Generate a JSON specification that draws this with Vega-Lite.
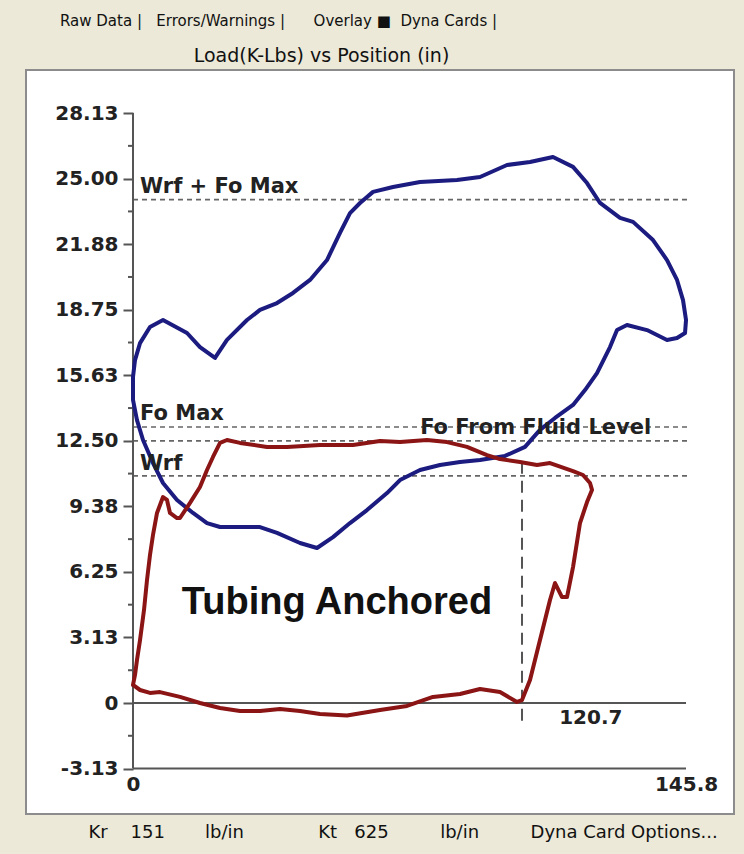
{
  "$schema": "https://vega.github.io/schema/vega-lite/v6.json",
  "autosize": {"type": "none"},
  "padding": {"left": 26, "top": 70, "right": 10, "bottom": 40},
  "width": 708,
  "height": 744,
  "background": "#ECE9D8",
  "config": {"view": {"fill": "white", "stroke": "#8c8c8c", "strokeWidth": 2}},
  "title": {
    "text": "Raw Data |\u00a0\u00a0\u00a0Errors/Warnings |\u00a0\u00a0\u00a0\u00a0\u00a0\u00a0Overlay ■\u00a0 Dyna Cards |",
    "anchor": "start", "frame": "group", "dx": 34, "offset": 17,
    "font": "DejaVu Sans", "fontSize": 15, "fontWeight": "normal", "color": "#111"
  },
  "datasets": {
    "cards": [
      {"card": "Surface", "i": 0, "pos": 0, "load": 14.78},
      {"card": "Surface", "i": 1, "pos": 0, "load": 15.54},
      {"card": "Surface", "i": 2, "pos": 0.53, "load": 16.35},
      {"card": "Surface", "i": 3, "pos": 1.85, "load": 17.16},
      {"card": "Surface", "i": 4, "pos": 4.48, "load": 17.93},
      {"card": "Surface", "i": 5, "pos": 7.91, "load": 18.26},
      {"card": "Surface", "i": 6, "pos": 14.24, "load": 17.64},
      {"card": "Surface", "i": 7, "pos": 17.66, "load": 16.97},
      {"card": "Surface", "i": 8, "pos": 21.62, "load": 16.45},
      {"card": "Surface", "i": 9, "pos": 24.78, "load": 17.31},
      {"card": "Surface", "i": 10, "pos": 30.06, "load": 18.26},
      {"card": "Surface", "i": 11, "pos": 33.48, "load": 18.74},
      {"card": "Surface", "i": 12, "pos": 37.97, "load": 19.07},
      {"card": "Surface", "i": 13, "pos": 42.18, "load": 19.55},
      {"card": "Surface", "i": 14, "pos": 46.67, "load": 20.17},
      {"card": "Surface", "i": 15, "pos": 51.15, "load": 21.12},
      {"card": "Surface", "i": 16, "pos": 54.57, "load": 22.41},
      {"card": "Surface", "i": 17, "pos": 57.21, "load": 23.36},
      {"card": "Surface", "i": 18, "pos": 59.85, "load": 23.84},
      {"card": "Surface", "i": 19, "pos": 63.28, "load": 24.37},
      {"card": "Surface", "i": 20, "pos": 68.55, "load": 24.6},
      {"card": "Surface", "i": 21, "pos": 75.67, "load": 24.84},
      {"card": "Surface", "i": 22, "pos": 85.42, "load": 24.94},
      {"card": "Surface", "i": 23, "pos": 91.49, "load": 25.08},
      {"card": "Surface", "i": 24, "pos": 98.61, "load": 25.65},
      {"card": "Surface", "i": 25, "pos": 104.67, "load": 25.79},
      {"card": "Surface", "i": 26, "pos": 110.73, "load": 26.03},
      {"card": "Surface", "i": 27, "pos": 116.01, "load": 25.56},
      {"card": "Surface", "i": 28, "pos": 119.7, "load": 24.79},
      {"card": "Surface", "i": 29, "pos": 123.13, "load": 23.84},
      {"card": "Surface", "i": 30, "pos": 128.4, "load": 23.13},
      {"card": "Surface", "i": 31, "pos": 131.83, "load": 22.94},
      {"card": "Surface", "i": 32, "pos": 137.1, "load": 22.07},
      {"card": "Surface", "i": 33, "pos": 140.79, "load": 21.12},
      {"card": "Surface", "i": 34, "pos": 143.43, "load": 20.17},
      {"card": "Surface", "i": 35, "pos": 145.01, "load": 19.21},
      {"card": "Surface", "i": 36, "pos": 145.8, "load": 18.26},
      {"card": "Surface", "i": 37, "pos": 145.54, "load": 17.64},
      {"card": "Surface", "i": 38, "pos": 143.43, "load": 17.4},
      {"card": "Surface", "i": 39, "pos": 140.79, "load": 17.31},
      {"card": "Surface", "i": 40, "pos": 135.52, "load": 17.78},
      {"card": "Surface", "i": 41, "pos": 130.24, "load": 18.02},
      {"card": "Surface", "i": 42, "pos": 127.61, "load": 17.78},
      {"card": "Surface", "i": 43, "pos": 125.76, "load": 16.97},
      {"card": "Surface", "i": 44, "pos": 122.33, "load": 15.73},
      {"card": "Surface", "i": 45, "pos": 119.17, "load": 14.92},
      {"card": "Surface", "i": 46, "pos": 116.01, "load": 14.21},
      {"card": "Surface", "i": 47, "pos": 111.26, "load": 13.59},
      {"card": "Surface", "i": 48, "pos": 107.3, "load": 13.02},
      {"card": "Surface", "i": 49, "pos": 103.35, "load": 12.21},
      {"card": "Surface", "i": 50, "pos": 98.08, "load": 11.78},
      {"card": "Surface", "i": 51, "pos": 91.49, "load": 11.59},
      {"card": "Surface", "i": 52, "pos": 86.21, "load": 11.49},
      {"card": "Surface", "i": 53, "pos": 80.94, "load": 11.35},
      {"card": "Surface", "i": 54, "pos": 75.67, "load": 11.11},
      {"card": "Surface", "i": 55, "pos": 70.39, "load": 10.63},
      {"card": "Surface", "i": 56, "pos": 66.97, "load": 10.01},
      {"card": "Surface", "i": 57, "pos": 61.69, "load": 9.2},
      {"card": "Surface", "i": 58, "pos": 57.21, "load": 8.58},
      {"card": "Surface", "i": 59, "pos": 52.73, "load": 7.91},
      {"card": "Surface", "i": 60, "pos": 48.51, "load": 7.39},
      {"card": "Surface", "i": 61, "pos": 44.03, "load": 7.63},
      {"card": "Surface", "i": 62, "pos": 37.97, "load": 8.11},
      {"card": "Surface", "i": 63, "pos": 33.48, "load": 8.39},
      {"card": "Surface", "i": 64, "pos": 22.94, "load": 8.39},
      {"card": "Surface", "i": 65, "pos": 19.51, "load": 8.58},
      {"card": "Surface", "i": 66, "pos": 15.82, "load": 9.06},
      {"card": "Surface", "i": 67, "pos": 11.6, "load": 9.68},
      {"card": "Surface", "i": 68, "pos": 7.91, "load": 10.49},
      {"card": "Surface", "i": 69, "pos": 5.27, "load": 11.44},
      {"card": "Surface", "i": 70, "pos": 2.64, "load": 12.54},
      {"card": "Surface", "i": 71, "pos": 1.05, "load": 13.49},
      {"card": "Surface", "i": 72, "pos": 0, "load": 14.45},
      {"card": "Surface", "i": 73, "pos": 0, "load": 14.78},
      {"card": "Downhole", "i": 0, "pos": 0, "load": 0.86},
      {"card": "Downhole", "i": 1, "pos": 0.53, "load": 1.34},
      {"card": "Downhole", "i": 2, "pos": 1.05, "load": 2.05},
      {"card": "Downhole", "i": 3, "pos": 1.85, "load": 3.0},
      {"card": "Downhole", "i": 4, "pos": 2.9, "load": 4.43},
      {"card": "Downhole", "i": 5, "pos": 3.69, "load": 5.86},
      {"card": "Downhole", "i": 6, "pos": 4.48, "load": 7.06},
      {"card": "Downhole", "i": 7, "pos": 5.27, "load": 8.01},
      {"card": "Downhole", "i": 8, "pos": 6.33, "load": 9.06},
      {"card": "Downhole", "i": 9, "pos": 7.91, "load": 9.82},
      {"card": "Downhole", "i": 10, "pos": 8.96, "load": 9.68},
      {"card": "Downhole", "i": 11, "pos": 9.75, "load": 9.06},
      {"card": "Downhole", "i": 12, "pos": 11.6, "load": 8.82},
      {"card": "Downhole", "i": 13, "pos": 12.39, "load": 8.82},
      {"card": "Downhole", "i": 14, "pos": 15.03, "load": 9.54},
      {"card": "Downhole", "i": 15, "pos": 17.66, "load": 10.3},
      {"card": "Downhole", "i": 16, "pos": 19.51, "load": 11.11},
      {"card": "Downhole", "i": 17, "pos": 21.09, "load": 11.73},
      {"card": "Downhole", "i": 18, "pos": 22.94, "load": 12.4},
      {"card": "Downhole", "i": 19, "pos": 24.78, "load": 12.54},
      {"card": "Downhole", "i": 20, "pos": 28.21, "load": 12.4},
      {"card": "Downhole", "i": 21, "pos": 35.33, "load": 12.21},
      {"card": "Downhole", "i": 22, "pos": 40.6, "load": 12.21},
      {"card": "Downhole", "i": 23, "pos": 49.3, "load": 12.3},
      {"card": "Downhole", "i": 24, "pos": 58.0, "load": 12.3},
      {"card": "Downhole", "i": 25, "pos": 65.12, "load": 12.49},
      {"card": "Downhole", "i": 26, "pos": 70.39, "load": 12.44},
      {"card": "Downhole", "i": 27, "pos": 77.51, "load": 12.54},
      {"card": "Downhole", "i": 28, "pos": 82.79, "load": 12.44},
      {"card": "Downhole", "i": 29, "pos": 88.06, "load": 12.21},
      {"card": "Downhole", "i": 30, "pos": 93.33, "load": 11.82},
      {"card": "Downhole", "i": 31, "pos": 96.76, "load": 11.63},
      {"card": "Downhole", "i": 32, "pos": 102.03, "load": 11.49},
      {"card": "Downhole", "i": 33, "pos": 106.51, "load": 11.35},
      {"card": "Downhole", "i": 34, "pos": 109.94, "load": 11.44},
      {"card": "Downhole", "i": 35, "pos": 116.01, "load": 11.06},
      {"card": "Downhole", "i": 36, "pos": 118.64, "load": 10.87},
      {"card": "Downhole", "i": 37, "pos": 120.49, "load": 10.49},
      {"card": "Downhole", "i": 38, "pos": 121.01, "load": 10.16},
      {"card": "Downhole", "i": 39, "pos": 119.7, "load": 9.58},
      {"card": "Downhole", "i": 40, "pos": 117.85, "load": 8.58},
      {"card": "Downhole", "i": 41, "pos": 116.01, "load": 6.48},
      {"card": "Downhole", "i": 42, "pos": 114.42, "load": 5.05},
      {"card": "Downhole", "i": 43, "pos": 113.1, "load": 5.05},
      {"card": "Downhole", "i": 44, "pos": 111.26, "load": 5.72},
      {"card": "Downhole", "i": 45, "pos": 109.94, "load": 4.91},
      {"card": "Downhole", "i": 46, "pos": 107.3, "load": 3.0},
      {"card": "Downhole", "i": 47, "pos": 104.67, "load": 1.1},
      {"card": "Downhole", "i": 48, "pos": 102.56, "load": 0.14},
      {"card": "Downhole", "i": 49, "pos": 101.24, "load": 0.05},
      {"card": "Downhole", "i": 50, "pos": 96.76, "load": 0.52},
      {"card": "Downhole", "i": 51, "pos": 91.49, "load": 0.67},
      {"card": "Downhole", "i": 52, "pos": 86.21, "load": 0.43},
      {"card": "Downhole", "i": 53, "pos": 79.09, "load": 0.29},
      {"card": "Downhole", "i": 54, "pos": 72.24, "load": -0.14},
      {"card": "Downhole", "i": 55, "pos": 65.12, "load": -0.33},
      {"card": "Downhole", "i": 56, "pos": 56.42, "load": -0.6},
      {"card": "Downhole", "i": 57, "pos": 49.3, "load": -0.52},
      {"card": "Downhole", "i": 58, "pos": 44.03, "load": -0.38},
      {"card": "Downhole", "i": 59, "pos": 38.76, "load": -0.29},
      {"card": "Downhole", "i": 60, "pos": 33.48, "load": -0.38},
      {"card": "Downhole", "i": 61, "pos": 28.21, "load": -0.38},
      {"card": "Downhole", "i": 62, "pos": 22.94, "load": -0.24},
      {"card": "Downhole", "i": 63, "pos": 17.66, "load": 0},
      {"card": "Downhole", "i": 64, "pos": 12.39, "load": 0.29},
      {"card": "Downhole", "i": 65, "pos": 7.12, "load": 0.52},
      {"card": "Downhole", "i": 66, "pos": 4.48, "load": 0.48},
      {"card": "Downhole", "i": 67, "pos": 1.85, "load": 0.62},
      {"card": "Downhole", "i": 68, "pos": 0, "load": 0.86}
    ],
    "refs": [
      {"name": "Wrf + Fo Max", "load": 24.0},
      {"name": "Fo Max", "load": 13.16},
      {"name": "Fo From Fluid Level", "load": 12.5},
      {"name": "Wrf", "load": 10.83}
    ],
    "minor": [
      {"load": 26.5625}, {"load": 23.4375}, {"load": 20.3125}, {"load": 17.1875}, {"load": 14.0625},
      {"load": 10.9375}, {"load": 7.8125}, {"load": 4.6875}, {"load": 1.5625}, {"load": -1.5625}
    ],
    "notes": [
      {"label": "Wrf + Fo Max", "pos": 1.85, "load": 24.6},
      {"label": "Fo Max", "pos": 1.85, "load": 13.8},
      {"label": "Wrf", "pos": 1.85, "load": 11.4},
      {"label": "Fo From Fluid Level", "pos": 75.7, "load": 13.1}
    ]
  },
  "layer": [
    {
      "data": {"name": "refs"},
      "mark": {"type": "rule", "color": "#666", "strokeWidth": 1.6, "strokeDash": [5, 4]},
      "encoding": {
        "x": {"datum": 0, "type": "quantitative",
          "scale": {"domain": [-28.21, 158.45], "nice": false, "zero": false},
          "axis": {
            "orient": "bottom", "offset": -46, "domain": false, "grid": false, "ticks": false,
            "values": [0, 145.8],
            "labelExpr": "datum.value == 0 ? '0' : '145.8'",
            "labelFont": "DejaVu Sans", "labelFontWeight": "bold", "labelFontSize": 20, "labelColor": "#222",
            "labelPadding": 6, "labelFlush": false, "labelOverlap": false,
            "title": "Kr\u00a0\u00a0\u00a0\u00a0151\u00a0\u00a0\u00a0\u00a0\u00a0\u00a0\u00a0lb/in\u00a0\u00a0\u00a0\u00a0\u00a0\u00a0\u00a0\u00a0\u00a0\u00a0\u00a0\u00a0\u00a0Kt\u00a0\u00a0\u00a0625\u00a0\u00a0\u00a0\u00a0\u00a0\u00a0\u00a0\u00a0\u00a0lb/in\u00a0\u00a0\u00a0\u00a0\u00a0\u00a0\u00a0\u00a0\u00a0Dyna Card Options...",
            "titleX": 62, "titleY": 64, "titleAlign": "left", "titleBaseline": "middle", "titleAnchor": "start",
            "titleFont": "DejaVu Sans", "titleFontSize": 18, "titleFontWeight": "normal", "titleColor": "#111"
          }
        },
        "x2": {"datum": 146.5},
        "y": {"field": "load", "type": "quantitative",
          "scale": {"domain": [-5.292, 30.18], "nice": false, "zero": false},
          "axis": {
            "orient": "left", "offset": -107, "domain": false, "grid": false,
            "values": [28.125, 25, 21.875, 18.75, 15.625, 12.5, 9.375, 6.25, 3.125, 0, -3.125],
            "labelExpr": "datum.value == 0 ? '0' : (datum.value < 0 ? '-3.13' : format(datum.value, '.2f'))",
            "tickSize": 10, "tickColor": "#555", "tickWidth": 2,
            "labelFont": "DejaVu Sans", "labelFontWeight": "bold", "labelFontSize": 20, "labelColor": "#222",
            "labelPadding": 5, "labelFlush": false, "labelOverlap": false,
            "title": "Load(K-Lbs) vs Position (in)",
            "titleAngle": 0, "titleX": 188, "titleY": -15, "titleAlign": "center", "titleBaseline": "middle",
            "titleFont": "DejaVu Sans", "titleFontSize": 19, "titleFontWeight": "normal", "titleColor": "#111"
          }
        }
      }
    },
    {
      "data": {"name": "minor"},
      "mark": {"type": "rule", "color": "#555", "strokeWidth": 2},
      "encoding": {"x": {"datum": -1.32}, "x2": {"datum": 0}, "y": {"field": "load", "type": "quantitative"}}
    },
    {
      "data": {"values": [{}]},
      "mark": {"type": "rule", "color": "#555", "strokeWidth": 2},
      "encoding": {"x": {"datum": 0}, "y": {"datum": -3.125}, "y2": {"datum": 28.125}}
    },
    {
      "data": {"values": [{}]},
      "mark": {"type": "rule", "color": "#555", "strokeWidth": 2},
      "encoding": {"x": {"datum": 0}, "x2": {"datum": 145.8}, "y": {"datum": -3.125}}
    },
    {
      "data": {"values": [{}]},
      "mark": {"type": "rule", "color": "#555", "strokeWidth": 2},
      "encoding": {"x": {"datum": 0}, "x2": {"datum": 145.8}, "y": {"datum": 0}}
    },
    {
      "data": {"values": [{}]},
      "mark": {"type": "rule", "color": "#555", "strokeWidth": 2, "strokeDash": [12, 7]},
      "encoding": {"x": {"datum": 102.56}, "y": {"datum": 11.5}, "y2": {"datum": -1.05}}
    },
    {
      "data": {"name": "cards"},
      "mark": {"type": "line", "strokeWidth": 4, "strokeJoin": "round", "strokeCap": "round"},
      "encoding": {
        "x": {"field": "pos", "type": "quantitative"},
        "y": {"field": "load", "type": "quantitative"},
        "order": {"field": "i", "type": "quantitative"},
        "color": {"field": "card", "type": "nominal",
          "scale": {"domain": ["Surface", "Downhole"], "range": ["#1B1B80", "#8B1515"]},
          "legend": null}
      }
    },
    {
      "data": {"name": "notes"},
      "mark": {"type": "text", "align": "left", "baseline": "middle", "font": "DejaVu Sans", "fontWeight": "bold", "fontSize": 21, "color": "#222"},
      "encoding": {
        "x": {"field": "pos", "type": "quantitative"},
        "y": {"field": "load", "type": "quantitative"},
        "text": {"field": "label"}
      }
    },
    {
      "data": {"values": [{"label": "120.7", "pos": 120.7, "load": -0.72}]},
      "mark": {"type": "text", "align": "center", "baseline": "middle", "font": "DejaVu Sans", "fontWeight": "bold", "fontSize": 20, "color": "#222"},
      "encoding": {
        "x": {"field": "pos", "type": "quantitative"},
        "y": {"field": "load", "type": "quantitative"},
        "text": {"field": "label"}
      }
    },
    {
      "data": {"values": [{"label": "Tubing Anchored", "pos": 53.78, "load": 4.77}]},
      "mark": {"type": "text", "align": "center", "baseline": "middle", "font": "Liberation Sans", "fontWeight": "bold", "fontSize": 38, "color": "#111"},
      "encoding": {
        "x": {"field": "pos", "type": "quantitative"},
        "y": {"field": "load", "type": "quantitative"},
        "text": {"field": "label"}
      }
    }
  ]
}
